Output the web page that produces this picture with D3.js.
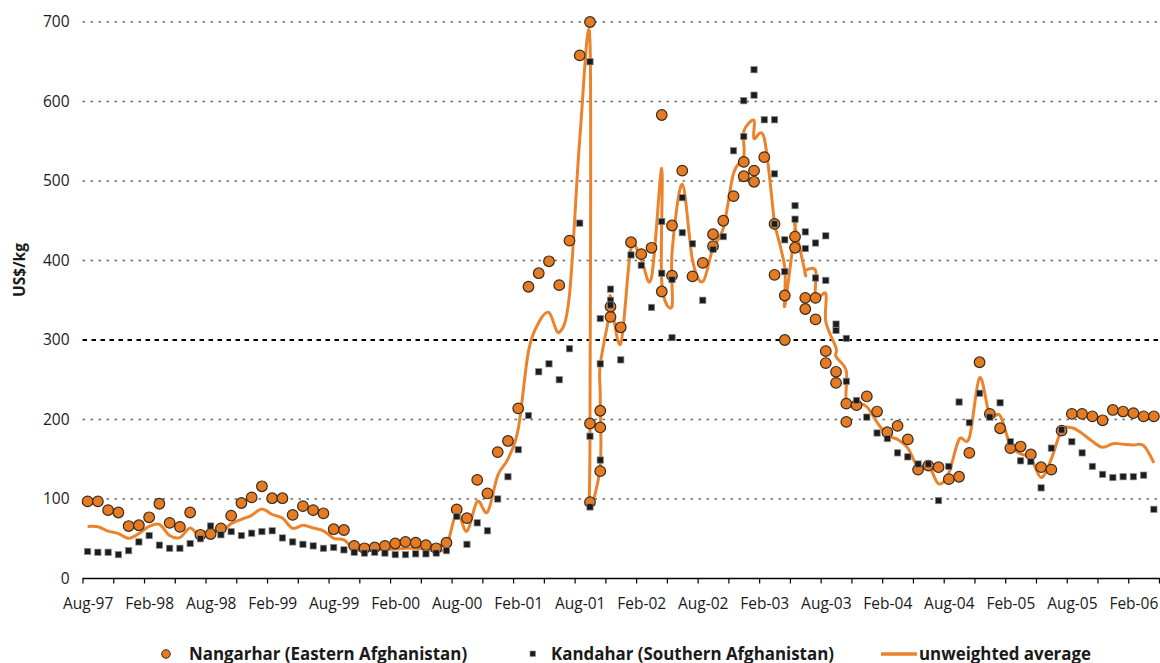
<!DOCTYPE html>
<html>
<head>
<meta charset="utf-8">
<script src="https://cdn.jsdelivr.net/npm/d3@7"></script>
<style>
  html, body { margin: 0; padding: 0; background: #fff; }
  svg text { font-family: "Open Sans", "Noto Sans", sans-serif; fill: #1a1a1a; }
</style>
</head>
<body>
<svg id="chart" width="1160" height="663"></svg>
<script>
// ---------------- DATA ----------------
const xLabels = ["Aug-97","Feb-98","Aug-98","Feb-99","Aug-99","Feb-00","Aug-00","Feb-01","Aug-01",
                 "Feb-02","Aug-02","Feb-03","Aug-03","Feb-04","Aug-04","Feb-05","Aug-05","Feb-06"];
const yTicks = [0, 100, 200, 300, 400, 500, 600, 700];
const seriesNames = ["Nangarhar (Eastern Afghanistan)", "Kandahar (Southern Afghanistan)", "unweighted average"];

// observation month (several observations can fall in the same month)
const obsMonth = [
 "1997-08","1997-09","1997-10","1997-11","1997-12","1998-01","1998-02","1998-03","1998-04","1998-05",
 "1998-06","1998-07","1998-08","1998-09","1998-10","1998-11","1998-12","1999-01","1999-02","1999-03",
 "1999-04","1999-05","1999-06","1999-07","1999-08","1999-09","1999-10","1999-11","1999-12","2000-01",
 "2000-02","2000-03","2000-04","2000-05","2000-06","2000-07","2000-08","2000-09","2000-10","2000-11",
 "2000-12","2001-01","2001-02","2001-03","2001-04","2001-05","2001-06","2001-07","2001-08",
 "2001-09","2001-09","2001-09","2001-10","2001-10","2001-10","2001-11","2001-11","2001-11","2001-12",
 "2002-01","2002-02","2002-03","2002-04","2002-04","2002-05","2002-05","2002-06","2002-06","2002-07",
 "2002-08","2002-09","2002-09","2002-10","2002-11","2002-12","2002-12","2003-01","2003-01","2003-02",
 "2003-03","2003-03","2003-03","2003-04","2003-04","2003-05","2003-05","2003-06","2003-06","2003-07",
 "2003-07","2003-08","2003-08","2003-09","2003-09","2003-10","2003-10","2003-11","2003-12","2004-01",
 "2004-02","2004-03","2004-04","2004-05","2004-06","2004-07","2004-08","2004-09","2004-10","2004-11",
 "2004-12","2005-01","2005-02","2005-03","2005-04","2005-05","2005-06","2005-07","2005-08","2005-09",
 "2005-10","2005-11","2005-12","2006-01","2006-02","2006-03","2006-04"
];
const nangarhar = [
 97,97,86,83,66,67,77,94,70,65,
 83,55,56,63,79,95,102,116,101,101,
 80,91,86,82,62,61,41,38,39,41,
 44,46,45,42,38,45,87,76,124,107,
 159,173,214,367,384,399,369,425,658,
 700,195,96,135,190,211,329,342,null,316,
 423,408,416,583,361,381,444,513,null,380,
 397,418,433,450,481,506,524,513,499,530,
 null,446,382,356,300,430,416,353,339,353,
 326,286,271,260,246,220,197,218,229,210,
 184,192,175,137,142,140,125,128,158,272,
 207,189,164,166,156,140,137,186,207,207,
 204,199,212,210,208,204,204
];
const kandahar = [
 34,33,33,30,35,46,54,42,38,38,
 44,50,66,55,59,54,57,59,60,51,
 46,43,41,38,39,36,33,32,33,32,
 30,30,31,31,32,35,78,43,70,60,
 100,128,162,205,260,270,250,289,447,
 650,179,90,149,270,327,350,364,344,275,
 407,394,341,449,384,303,376,479,435,421,
 350,414,null,430,538,556,601,640,608,577,
 577,446,509,426,386,452,469,415,436,422,
 378,431,375,320,312,302,248,224,203,183,
 176,158,153,144,144,98,141,222,196,233,
 203,221,172,148,147,114,164,187,172,158,
 141,131,127,128,128,130,87
];
const average = [
 65.5,65,59.5,56.5,50.5,56.5,65.5,68,54,51.5,
 63.5,52.5,61,59,69,74.5,79.5,87.5,80.5,76,
 63,67,63.5,60,50.5,48.5,37,35,36,36.5,
 37,38,38,36.5,35,40,82.5,59.5,97,83.5,
 129.5,150.5,188,286,322,334.5,309.5,357,552.5,
 675,187,93,142,230,269,339.5,353,null,295.5,
 415,401,378.5,516,372.5,342,410,496,null,400.5,
 373.5,416,null,440,509.5,531,562.5,576.5,553.5,553.5,
 null,446,445.5,391,343,441,442.5,384,387.5,387.5,
 352,358.5,323,290,279,261,222.5,221,216,196.5,
 180,175,164,140.5,143,119,133,175,177,252.5,
 205,205,168,157,151.5,127,150.5,186.5,189.5,182.5,
 172.5,165,169.5,169,168,167,145.5
];

// ---------------- CHART ----------------
const svg = d3.select("#chart");
const monthIndex = s => { const [yy, mm] = s.split("-").map(Number); return (yy - 1997) * 12 + (mm - 8); };
const labelIndex = s => { const mon = {Feb: 2, Aug: 8}[s.slice(0,3)]; const yy = 2000 + (+s.slice(4)) - (+s.slice(4) > 50 ? 100 : 0); return (yy - 1997) * 12 + (mon - 8); };

const x = d3.scaleLinear().domain([-0.5, 104.5]).range([82.5, 1159]);
const y = d3.scaleLinear().domain([0, 700]).range([578.5, 22]);

const ORANGE = "#E57B22";
const LINE_ORANGE = "#EC832C";

// gridlines
svg.append("g").selectAll("line")
  .data(yTicks.filter(v => v > 0))
  .join("line")
  .attr("x1", x.range()[0]).attr("x2", 1160)
  .attr("y1", d => y(d)).attr("y2", d => y(d))
  .attr("stroke", d => d === 300 ? "#000" : "#6a6a6a")
  .attr("stroke-width", d => d === 300 ? 2.2 : 1.4)
  .attr("stroke-dasharray", d => d === 300 ? "4.5,4.5" : "2.5,5.5");

// y axis labels
const yAxis = svg.append("g").attr("transform", `translate(${x.range()[0]},0)`)
  .call(d3.axisLeft(y).tickValues(yTicks).tickSize(0).tickPadding(13));
yAxis.select(".domain").remove();
yAxis.selectAll("text").attr("font-size", 15.5).attr("font-family", "Open Sans").attr("fill", "#1a1a1a");

// y title
svg.append("text")
  .attr("transform", "translate(25,270) rotate(-90)")
  .attr("text-anchor", "middle")
  .attr("font-size", 15.5).attr("font-weight", "bold")
  .text("US$/kg");

// x axis ticks
const xAxisTicks = svg.append("g").attr("transform", `translate(0,${y(0)})`)
  .call(d3.axisBottom(x).tickValues(d3.range(-0.5, 105, 3)).tickSize(5).tickFormat(""));
xAxisTicks.select(".domain").attr("stroke", "#000").attr("stroke-width", 1.3).attr("d", `M${x.range()[0]},0H1160`);
xAxisTicks.selectAll(".tick line").attr("stroke", "#000").attr("stroke-width", 1.2);

// x axis labels
const xAxisLabels = svg.append("g").attr("transform", `translate(0,${y(0)})`)
  .call(d3.axisBottom(x).tickValues(xLabels.map(labelIndex)).tickSize(0).tickPadding(19)
        .tickFormat((d, i) => xLabels[i]));
xAxisLabels.select(".domain").remove();
xAxisLabels.selectAll("text").attr("font-size", 15.5).attr("font-family", "Open Sans").attr("fill", "#1a1a1a");

// average line
const avgPts = obsMonth.map((m, i) => [monthIndex(m), average[i]]).filter(d => d[1] != null);
svg.append("path")
  .datum(avgPts)
  .attr("fill", "none")
  .attr("stroke", LINE_ORANGE)
  .attr("stroke-width", 3)
  .attr("stroke-linejoin", "round")
  .attr("d", d3.line().x(d => x(d[0])).y(d => y(d[1])).curve(d3.curveCardinal.tension(0)));

// Nangarhar circles
svg.append("g").selectAll("circle")
  .data(obsMonth.map((m, i) => [monthIndex(m), nangarhar[i]]).filter(d => d[1] != null))
  .join("circle")
  .attr("cx", d => x(d[0])).attr("cy", d => y(d[1]))
  .attr("r", 5.3)
  .attr("fill", ORANGE)
  .attr("stroke", "#3a2a1c").attr("stroke-width", 1.2);

// Kandahar squares
const S = 6.3;
svg.append("g").selectAll("rect")
  .data(obsMonth.map((m, i) => [monthIndex(m), kandahar[i]]).filter(d => d[1] != null))
  .join("rect")
  .attr("x", d => x(d[0]) - S / 2).attr("y", d => y(d[1]) - S / 2)
  .attr("width", S).attr("height", S)
  .attr("fill", "#1c1c1c")
  .attr("stroke", "#8a8a8a").attr("stroke-width", 0.7);

// legend
const lg = svg.append("g").attr("font-size", 16.9).attr("font-weight", "bold");
lg.append("circle").attr("cx", 166).attr("cy", 654).attr("r", 4.3)
  .attr("fill", ORANGE).attr("stroke", "#3a2a1c").attr("stroke-width", 1);
lg.append("text").attr("x", 189).attr("y", 659.5).text(seriesNames[0]);
lg.append("rect").attr("x", 530).attr("y", 651).attr("width", 5.5).attr("height", 5.5)
  .attr("fill", "#1c1c1c").attr("stroke", "#8a8a8a").attr("stroke-width", 0.6);
lg.append("text").attr("x", 551).attr("y", 659.5).text(seriesNames[1]);
lg.append("line").attr("x1", 881).attr("x2", 917).attr("y1", 654).attr("y2", 654)
  .attr("stroke", LINE_ORANGE).attr("stroke-width", 3.5);
lg.append("text").attr("x", 919).attr("y", 659.5).text(seriesNames[2]);
</script>
</body>
</html>
